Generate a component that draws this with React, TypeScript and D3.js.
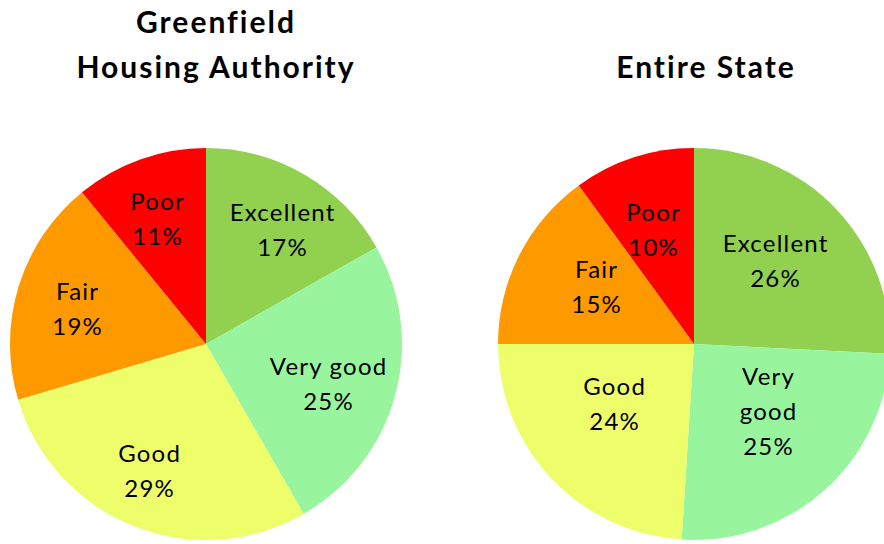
import React from "react";
import * as d3 from "d3";

const categories = ["Excellent", "Very good", "Good", "Fair", "Poor"];
const greenfieldValues = [16.8, 24.9, 28.7, 18.7, 10.9];
const greenfieldLabels = ["17%", "25%", "29%", "19%", "11%"];
const stateValues = [25.8, 25.2, 24.0, 15.0, 10.0];
const stateLabels = ["26%", "25%", "24%", "15%", "10%"];
const colors = ["#92D050", "#98F59E", "#EEFE6A", "#FF9900", "#FF0000"];

const W = 884;
const H = 544;
const R = 196;
const FONT = "Lato, 'Open Sans', sans-serif";

type PieSpec = {
  cx: number;
  cy: number;
  values: number[];
  pct: string[];
  title: string[];
  titleX: number;
  labelLines: string[][];
  labelPos: [number, number][];
};

const pies: PieSpec[] = [
  {
    cx: 206,
    cy: 344,
    values: greenfieldValues,
    pct: greenfieldLabels,
    title: ["Greenfield", "Housing Authority"],
    titleX: 215,
    labelLines: [["Excellent"], ["Very good"], ["Good"], ["Fair"], ["Poor"]],
    labelPos: [
      [76, -123],
      [122, 31],
      [-57, 118],
      [-129, -44],
      [-49, -134],
    ],
  },
  {
    cx: 694,
    cy: 344,
    values: stateValues,
    pct: stateLabels,
    title: ["", "Entire State"],
    titleX: 705,
    labelLines: [["Excellent"], ["Very", "good"], ["Good"], ["Fair"], ["Poor"]],
    labelPos: [
      [81, -92],
      [74, 41],
      [-80, 51],
      [-98, -66],
      [-41, -123],
    ],
  },
];

export default function App() {
  const pieGen = d3.pie<number>().sort(null).value((d) => d);
  const arcGen = d3.arc<d3.PieArcDatum<number>>().innerRadius(0).outerRadius(R);
  const lh = 35;
  return (
    <svg
      width={W}
      height={H}
      style={{ position: "absolute", left: 0, top: 0, background: "#fff" }}
    >
      {pies.map((p, pi) => {
        const arcs = pieGen(p.values);
        return (
          <g key={pi}>
            {p.title.map((t, i) =>
              t ? (
                <text
                  key={i}
                  x={p.titleX + 1}
                  y={33 + i * 45}
                  textAnchor="middle"
                  fontFamily={FONT}
                  fontWeight="bold"
                  fontSize={30}
                  letterSpacing={2}
                  fill="#000"
                >
                  {t}
                </text>
              ) : null
            )}
            <g transform={`translate(${p.cx},${p.cy})`}>
              {arcs.map((a, i) => (
                <path key={i} d={arcGen(a) || ""} fill={colors[i]} />
              ))}
              {arcs.map((a, i) => {
                const lines = [...p.labelLines[i], p.pct[i]];
                const [lx, ly] = p.labelPos[i];
                return (
                  <text
                    key={"l" + i}
                    textAnchor="middle"
                    fontFamily={FONT}
                    fontSize={24}
                    letterSpacing={1.2}
                    fill="#000"
                  >
                    {lines.map((ln, j) => (
                      <tspan key={j} x={lx + 0.6} y={ly + j * lh}>
                        {ln}
                      </tspan>
                    ))}
                  </text>
                );
              })}
            </g>
          </g>
        );
      })}
    </svg>
  );
}
